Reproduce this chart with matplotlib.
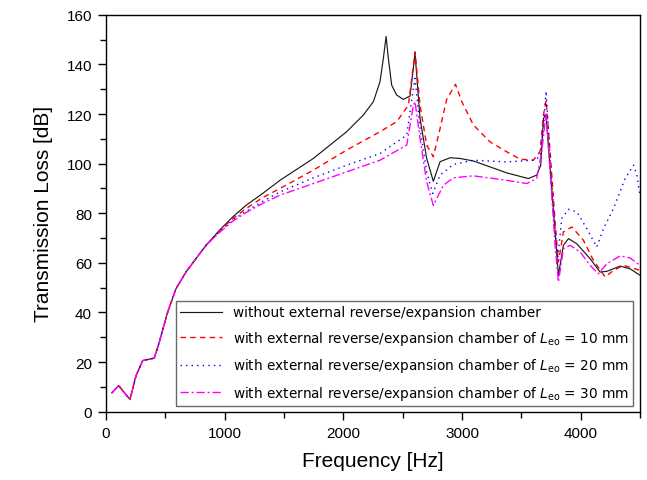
import matplotlib
matplotlib.use("Agg")
import matplotlib.pyplot as plt
from matplotlib.ticker import MultipleLocator

# ---- data ----
# common low-frequency part (all four curves coincide)
low_f = [50, 107, 202, 253, 309, 407, 449, 520, 590, 674, 758, 843]
low_tl = [7.6, 10.5, 4.9, 14.5, 20.6, 21.6, 28.0, 40.2, 49.6, 56.3, 61.7, 67.1]

f0 = [955, 1067, 1180, 1320, 1466, 1747, 2028, 2168, 2253, 2309, 2337, 2360,
      2379, 2407, 2449, 2505, 2562, 2604, 2646, 2702, 2758, 2815, 2899, 2983,
      3095, 3236, 3376, 3559, 3629, 3663, 3686, 3708, 3742, 3784, 3812, 3854,
      3897, 3967, 4079, 4163, 4220, 4332, 4416, 4500]
tl0 = [73.1, 78.5, 83.2, 88.0, 93.3, 102.1, 112.9, 119.6, 125.0, 133.1, 142.5,
       151.3, 142.5, 131.7, 127.7, 125.9, 127.3, 144.5, 118.3, 102.1, 92.9,
       100.8, 102.4, 102.1, 101.1, 98.7, 96.3, 94.0, 95.4, 99.4, 118.3, 119.6,
       98.1, 72.5, 55.0, 67.1, 69.8, 67.7, 61.7, 56.3, 56.6, 58.7, 57.6, 55.0]

f10 = [955, 1067, 1180, 1320, 1466, 1747, 2028, 2309, 2449, 2548, 2604, 2646,
       2702, 2758, 2815, 2871, 2945, 2998, 3095, 3236, 3376, 3489, 3601, 3657,
       3686, 3708, 3742, 3784, 3812, 3854, 3925, 4023, 4107, 4206, 4276, 4360,
       4500]
tl10 = [72.8, 77.8, 81.9, 86.3, 90.0, 97.4, 105.5, 112.9, 116.9, 123.6, 145.1,
        123.6, 107.5, 102.8, 114.2, 126.0, 132.0, 125.0, 115.6, 108.8, 104.8,
        101.8, 101.4, 104.8, 119.6, 125.5, 104.8, 76.5, 60.4, 72.5, 74.5, 69.1,
        61.0, 54.3, 57.0, 59.0, 57.0]

f20 = [955, 1067, 1180, 1320, 1466, 1747, 2028, 2309, 2534, 2590, 2604, 2646,
       2702, 2753, 2815, 2927, 3095, 3376, 3601, 3657, 3686, 3708, 3742, 3784,
       3806, 3840, 3897, 3967, 4051, 4135, 4192, 4276, 4374, 4445, 4473, 4500]
tl20 = [72.5, 77.3, 80.8, 84.8, 88.6, 94.3, 99.4, 104.1, 111.5, 130.4, 134.4,
        114.2, 96.7, 88.0, 95.4, 99.7, 101.4, 100.7, 101.4, 102.8, 114.2, 129.3,
        102.1, 72.5, 61.7, 77.9, 81.6, 80.6, 73.8, 66.4, 73.8, 81.9, 94.0, 99.4,
        95.4, 87.0]

f30 = [955, 1067, 1180, 1320, 1466, 1747, 2028, 2309, 2534, 2590, 2604, 2646,
       2702, 2758, 2843, 2927, 3095, 3376, 3545, 3629, 3671, 3708, 3742, 3784,
       3812, 3854, 3911, 3995, 4079, 4149, 4220, 4332, 4416, 4500]
tl30 = [72.2, 76.8, 80.3, 84.0, 87.3, 92.0, 96.7, 101.4, 107.5, 123.6, 125.0,
        110.2, 92.7, 83.2, 91.3, 94.3, 95.1, 93.3, 92.0, 94.0, 104.8, 120.0,
        96.7, 67.1, 52.3, 65.7, 67.1, 64.4, 59.0, 55.6, 59.7, 62.8, 62.0, 59.0]

labels = [
    "without external reverse/expansion chamber",
    r"with external reverse/expansion chamber of $L_{\mathrm{eo}}$ = 10 mm",
    r"with external reverse/expansion chamber of $L_{\mathrm{eo}}$ = 20 mm",
    r"with external reverse/expansion chamber of $L_{\mathrm{eo}}$ = 30 mm",
]

plt.rcParams["mathtext.fontset"] = "dejavusans"

fig = plt.figure(figsize=(6.47, 4.81), dpi=100)
ax = fig.add_axes([0.1638, 0.142, 0.8255, 0.825])

def full(f, v):
    return low_f + f, low_tl + v

x, y = full(f0, tl0)
ax.plot(x, y, color="#1a1a1a", lw=0.85, ls="-", label=labels[0])
x, y = full(f10, tl10)
ax.plot(x, y, color="#ff0000", lw=1.0, ls=(0, (4, 3)), label=labels[1])
x, y = full(f20, tl20)
ax.plot(x, y, color="#0000ff", lw=1.0, ls=(0, (1, 3)), label=labels[2])
x, y = full(f30, tl30)
ax.plot(x, y, color="#ff00ff", lw=1.0, ls=(0, (6, 2, 1.5, 2)), label=labels[3])

ax.set_xlim(0, 4500)
ax.set_ylim(0, 160)
ax.xaxis.set_major_locator(MultipleLocator(1000))
ax.xaxis.set_minor_locator(MultipleLocator(500))
ax.yaxis.set_major_locator(MultipleLocator(20))
ax.yaxis.set_minor_locator(MultipleLocator(10))
ax.tick_params(which="both", direction="out", top=False, right=False, width=1.0,
               labelsize=11, labelfontfamily="Liberation Sans", color="black")
ax.tick_params(which="major", length=6, pad=4)
ax.tick_params(which="minor", length=4)
for sp in ax.spines.values():
    sp.set_linewidth(1.0)

ax.set_xlabel("Frequency [Hz]", fontsize=15, family="Liberation Sans", labelpad=8)
ax.set_ylabel("Transmission Loss [dB]", fontsize=15, family="Liberation Sans", labelpad=10)

leg = ax.legend(loc="lower right", prop={"family": "DejaVu Sans", "size": 9.8},
                frameon=True, fancybox=False, edgecolor="#444444",
                handlelength=3.05, labelspacing=0.7, borderpad=0.3,
                handletextpad=0.85, borderaxespad=0.0,
                bbox_to_anchor=(0.987, 0.0144))
leg.get_frame().set_linewidth(1.0)

fig.savefig("out.png", dpi=100)
